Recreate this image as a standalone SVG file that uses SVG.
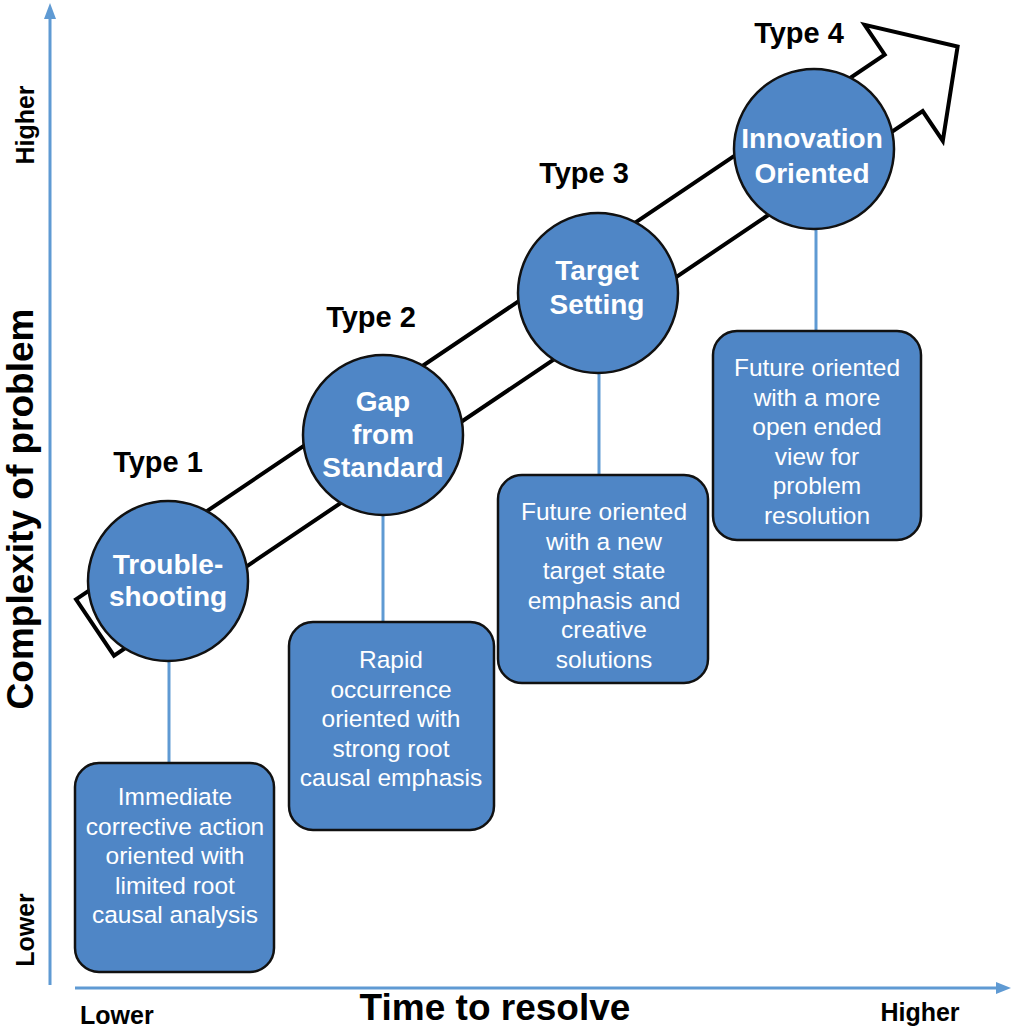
<svg xmlns="http://www.w3.org/2000/svg" width="1013" height="1029" viewBox="0 0 1013 1029">
  <defs>
    <style>
      .axis { stroke: #5f9ad3; stroke-width: 3; fill: none; }
      .axis-head { fill: #5f9ad3; }
      .link { stroke: #5f9ad3; stroke-width: 3; fill: none; }
      .circle { fill: #4f86c6; stroke: #111; stroke-width: 2.5; }
      .box { fill: #4f86c6; stroke: #111; stroke-width: 2.5; }
      .ctext { font-family: "Liberation Sans", Arial, sans-serif; font-weight: bold; font-size: 28px; fill: #ffffff; text-anchor: middle; }
      .btext { font-family: "Liberation Sans", Arial, sans-serif; font-size: 24.5px; fill: #ffffff; text-anchor: middle; }
      .type { font-family: "Liberation Sans", Arial, sans-serif; font-weight: bold; font-size: 29px; fill: #000; text-anchor: middle; }
      .tick { font-family: "Liberation Sans", Arial, sans-serif; font-weight: bold; font-size: 25px; fill: #000; }
      .title { font-family: "Liberation Sans", Arial, sans-serif; font-weight: bold; font-size: 37px; fill: #000; text-anchor: middle; }
    </style>
  </defs>
  <rect x="0" y="0" width="1013" height="1029" fill="#ffffff"/>

  <!-- axes -->
  <g id="axes">
    <line class="axis" x1="50" y1="985" x2="50" y2="16"/>
    <polygon class="axis-head" points="50,3 44,19 56,19"/>
    <line class="axis" x1="75" y1="988" x2="998" y2="988"/>
    <polygon class="axis-head" points="1011,988 996,982 996,994"/>
    <text class="tick" transform="translate(34,125) rotate(-90)" text-anchor="middle">Higher</text>
    <text class="tick" transform="translate(34,930) rotate(-90)" text-anchor="middle">Lower</text>
    <text class="title" transform="translate(33,509) rotate(-90)">Complexity of problem</text>
    <text class="tick" x="80" y="1024">Lower</text>
    <text class="title" x="495" y="1020">Time to resolve</text>
    <text class="tick" x="920" y="1021" text-anchor="middle">Higher</text>
  </g>

  <!-- progression arrow -->
  <g id="progression-arrow">
    <polygon transform="translate(95,627.5) rotate(-33.96)" points="0,-34 975,-34 975,-70 1040,0 975,70 975,34 0,34" fill="#ffffff" stroke="#000" stroke-width="4" stroke-linejoin="miter"/>
  </g>

  <!-- connectors from circles to description boxes -->
  <g id="connectors">
    <line class="link" x1="169" y1="660" x2="169" y2="764"/>
    <line class="link" x1="383" y1="514" x2="383" y2="623"/>
    <line class="link" x1="599" y1="372" x2="599" y2="476"/>
    <line class="link" x1="816" y1="228" x2="816" y2="331"/>
  </g>

  <!-- Type 1 -->
  <g id="type1">
    <text class="type" x="158" y="472">Type 1</text>
    <circle class="circle" cx="168" cy="581" r="80"/>
    <text class="ctext" x="168" y="574">Trouble-</text>
    <text class="ctext" x="168" y="606">shooting</text>
  </g>
  <g id="type1-desc">
    <rect class="box" x="75" y="763" width="199" height="209" rx="24"/>
    <text class="btext" x="175" y="805">Immediate</text>
    <text class="btext" x="175" y="835">corrective action</text>
    <text class="btext" x="175" y="864">oriented with</text>
    <text class="btext" x="175" y="894">limited root</text>
    <text class="btext" x="175" y="923">causal analysis</text>
  </g>

  <!-- Type 2 -->
  <g id="type2">
    <text class="type" x="371" y="327">Type 2</text>
    <circle class="circle" cx="383" cy="435" r="80"/>
    <text class="ctext" x="383" y="411">Gap</text>
    <text class="ctext" x="383" y="444">from</text>
    <text class="ctext" x="383" y="477">Standard</text>
  </g>
  <g id="type2-desc">
    <rect class="box" x="289" y="622" width="205" height="208" rx="24"/>
    <text class="btext" x="391" y="668">Rapid</text>
    <text class="btext" x="391" y="698">occurrence</text>
    <text class="btext" x="391" y="727">oriented with</text>
    <text class="btext" x="391" y="757">strong root</text>
    <text class="btext" x="391" y="786">causal emphasis</text>
  </g>

  <!-- Type 3 -->
  <g id="type3">
    <text class="type" x="584" y="183">Type 3</text>
    <circle class="circle" cx="598" cy="293" r="80"/>
    <text class="ctext" x="597" y="280">Target</text>
    <text class="ctext" x="597" y="314">Setting</text>
  </g>
  <g id="type3-desc">
    <rect class="box" x="498" y="475" width="210" height="208" rx="24"/>
    <text class="btext" x="604" y="520">Future oriented</text>
    <text class="btext" x="604" y="550">with a new</text>
    <text class="btext" x="604" y="579">target state</text>
    <text class="btext" x="604" y="609">emphasis and</text>
    <text class="btext" x="604" y="638">creative</text>
    <text class="btext" x="604" y="668">solutions</text>
  </g>

  <!-- Type 4 -->
  <g id="type4">
    <text class="type" x="799" y="43">Type 4</text>
    <circle class="circle" cx="814" cy="149" r="80"/>
    <text class="ctext" x="812" y="148">Innovation</text>
    <text class="ctext" x="812" y="183">Oriented</text>
  </g>
  <g id="type4-desc">
    <rect class="box" x="713" y="331" width="208" height="209" rx="24"/>
    <text class="btext" x="817" y="376">Future oriented</text>
    <text class="btext" x="817" y="406">with a more</text>
    <text class="btext" x="817" y="435">open ended</text>
    <text class="btext" x="817" y="465">view for</text>
    <text class="btext" x="817" y="494">problem</text>
    <text class="btext" x="817" y="524">resolution</text>
  </g>
</svg>
